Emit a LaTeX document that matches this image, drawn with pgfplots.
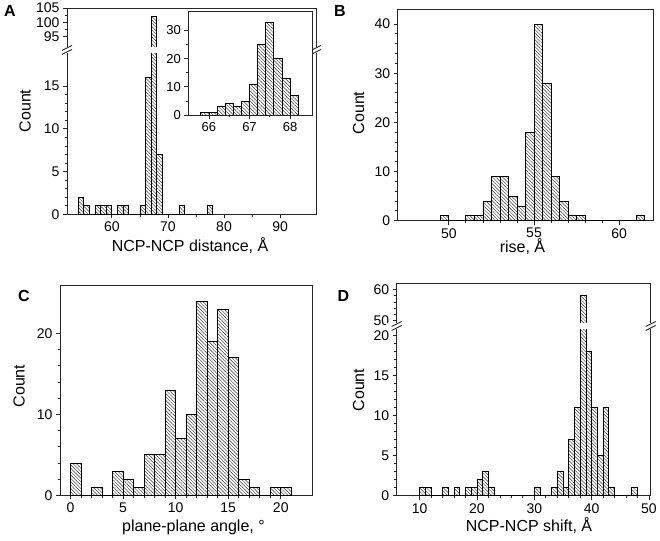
\documentclass[border=0pt]{standalone}
\usepackage{fontspec}
\setmainfont{Liberation Sans}
\usepackage{pgfplots}
\pgfplotsset{compat=1.18}
\usetikzlibrary{patterns.meta}
\pgfplotsset{
  hist/.style={ybar interval, draw=black, line width=0.75pt,
    pattern={Lines[angle=-45,distance=2.4pt,line width=0.45pt]}, pattern color=black!80},
  base/.style={scale only axis, anchor=south west, tick align=outside, tick pos=left,
    major tick length=4pt, minor tick length=2.3pt,
    every tick/.append style={black!85, line width=0.8pt},
    axis line style={-, black!85, line width=0.9pt},
    tick label style={font=\fontsize{14}{16}\selectfont},
    /pgf/number format/assume math mode=true},
}
\tikzset{brk/.style={black!85, line width=0.9pt}}
\newcommand\brk[2]{\draw[brk] (#1pt-5pt,#2pt-2.5pt) -- (#1pt+5pt,#2pt+2.5pt);}
\newcommand\lab{\fontsize{16}{18}\selectfont}
\newcommand\pan{\bfseries\fontsize{16}{18}\selectfont}
\begin{document}
\begin{tikzpicture}
\path[use as bounding box] (0,0) rectangle (660pt,540pt);
% ---------- A lower
\begin{axis}[base, at={(67pt,325.7pt)}, width=249pt, height=162.3pt,
  xmin=52, xmax=96.4, ymin=0, ymax=19,
  xtick={60,70,80,90}, minor x tick num=1, ytick={0,5,10,15}, minor y tick num=4]
\addplot[hist] coordinates {(54,2)(55,1)(56,0)(57,1)(58,1)(59,1)(60,0)(61,1)(62,1)(63,0)(64,0)(65,1)(66,16)(67,102)(68,7)(69,0)(70,0)(71,0)(72,1)(73,0)(74,0)(75,0)(76,0)(77,1)(78,0)};
\end{axis}
% ---------- A upper
\begin{axis}[base, at={(67pt,492pt)}, width=249pt, height=40pt,
  xmin=52, xmax=96.4, ymin=91, ymax=105,
  xtick=\empty, ytick={95,100,105}, minor y tick num=1]
\addplot[hist] coordinates {(54,2)(55,1)(56,0)(57,1)(58,1)(59,1)(60,0)(61,1)(62,1)(63,0)(64,0)(65,1)(66,16)(67,102)(68,7)(69,0)};
\end{axis}
\fill[white] (56pt,486.8pt) rectangle (328pt,493.2pt);
\brk{67}{488}\brk{67}{492}\brk{316}{488}\brk{316}{492}
% ---------- A inset
\begin{axis}[base, at={(188.3pt,425pt)}, width=124pt, height=104pt,
  xmin=65.49, xmax=68.55, ymin=0, ymax=36.9,
  axis background/.style={fill=white},
  tick label style={font=\fontsize{13}{15}\selectfont},
  xtick={66,67,68}, minor x tick num=1, ytick={0,10,20,30}, minor y tick num=1]
\addplot[hist] coordinates {(65.8,1)(66.0,1)(66.2,3)(66.4,4)(66.6,3)(66.8,5)(67.0,11)(67.2,25)(67.4,33)(67.6,20)(67.8,13)(68.0,7)(68.2,0)};
\end{axis}
% ---------- B
\begin{axis}[base, at={(397.7pt,319.3pt)}, width=255.6pt, height=211.4pt,
  xmin=47, xmax=62, ymin=0, ymax=43,
  xtick={50,55,60}, minor x tick num=4, ytick={0,10,20,30,40}, minor y tick num=4]
\addplot[hist] coordinates {(49.5,1)(50,0)(50.5,0)(51,1)(51.5,1)(52,4)(52.5,9)(53,9)(53.5,5)(54,3)(54.5,18)(55,40)(55.5,28)(56,9)(56.5,4)(57,1)(57.5,1)(58,0)(58.5,0)(59,0)(59.5,0)(60,0)(60.5,0)(61,1)(61.5,0)};
\end{axis}
% ---------- C
\begin{axis}[base, at={(60pt,44.7pt)}, width=252.3pt, height=210.3pt,
  xmin=-1, xmax=23, ymin=0, ymax=26,
  xtick={0,5,10,15,20}, minor x tick num=4, ytick={0,10,20}, minor y tick num=4]
\addplot[hist] coordinates {(0,4)(1,0)(2,1)(3,0)(4,3)(5,2)(6,1)(7,5)(8,5)(9,13)(10,7)(11,10)(12,24)(13,19)(14,23)(15,17)(16,2)(17,1)(18,0)(19,1)(20,1)(21,0)};
\end{axis}
% ---------- D lower
\begin{axis}[base, at={(396.7pt,44.3pt)}, width=254pt, height=167.7pt,
  xmin=6, xmax=50.3, ymin=0, ymax=20.9,
  xtick={10,20,30,40,50}, minor x tick num=4, ytick={0,5,10,15,20}, minor y tick num=4]
\addplot[hist] coordinates {(10,1)(11,1)(12,0)(13,0)(14,1)(15,0)(16,1)(17,0)(18,1)(19,1)(20,2)(21,3)(22,1)(23,0)(24,0)(25,0)(26,0)(27,0)(28,0)(29,0)(30,1)(31,0)(32,0)(33,1)(34,3)(35,1)(36,7)(37,11)(38,58)(39,18)(40,11)(41,5)(42,11)(43,1)(44,0)(45,0)(46,0)(47,1)(48,0)};
\end{axis}
% ---------- D upper
\begin{axis}[base, at={(396.7pt,216pt)}, width=254pt, height=40.7pt,
  xmin=6, xmax=50.3, ymin=49, ymax=62,
  xtick=\empty, ytick={50,60}, minor y tick num=4]
\addplot[hist] coordinates {(36,7)(37,11)(38,58)(39,18)(40,11)};
\end{axis}
\fill[white] (386pt,210.8pt) rectangle (661pt,217.2pt);
\brk{396.7}{212}\brk{396.7}{216}\brk{650.7}{212}\brk{650.7}{216}
% ---------- labels
\node[font=\pan] at (10pt,528.5pt) {A};
\node[font=\lab, rotate=90] at (25pt,429pt) {Count};
\node[font=\lab, anchor=base] at (190pt,288pt) {NCP-NCP distance, Å};
\node[font=\pan] at (340pt,529pt) {B};
\node[font=\lab, rotate=90] at (358.5pt,427pt) {Count};
\node[font=\lab, anchor=base] at (522.5pt,287pt) {rise, Å};
\node[font=\pan] at (24pt,244pt) {C};
\node[font=\lab, rotate=90] at (19pt,154pt) {Count};
\node[font=\lab, anchor=base] at (193.5pt,8.5pt) {plane-plane angle, °};
\node[font=\pan] at (343.5pt,244pt) {D};
\node[font=\lab, rotate=90] at (358.5pt,150pt) {Count};
\node[font=\lab, anchor=base] at (529pt,8.5pt) {NCP-NCP shift, Å};
\end{tikzpicture}
\end{document}
